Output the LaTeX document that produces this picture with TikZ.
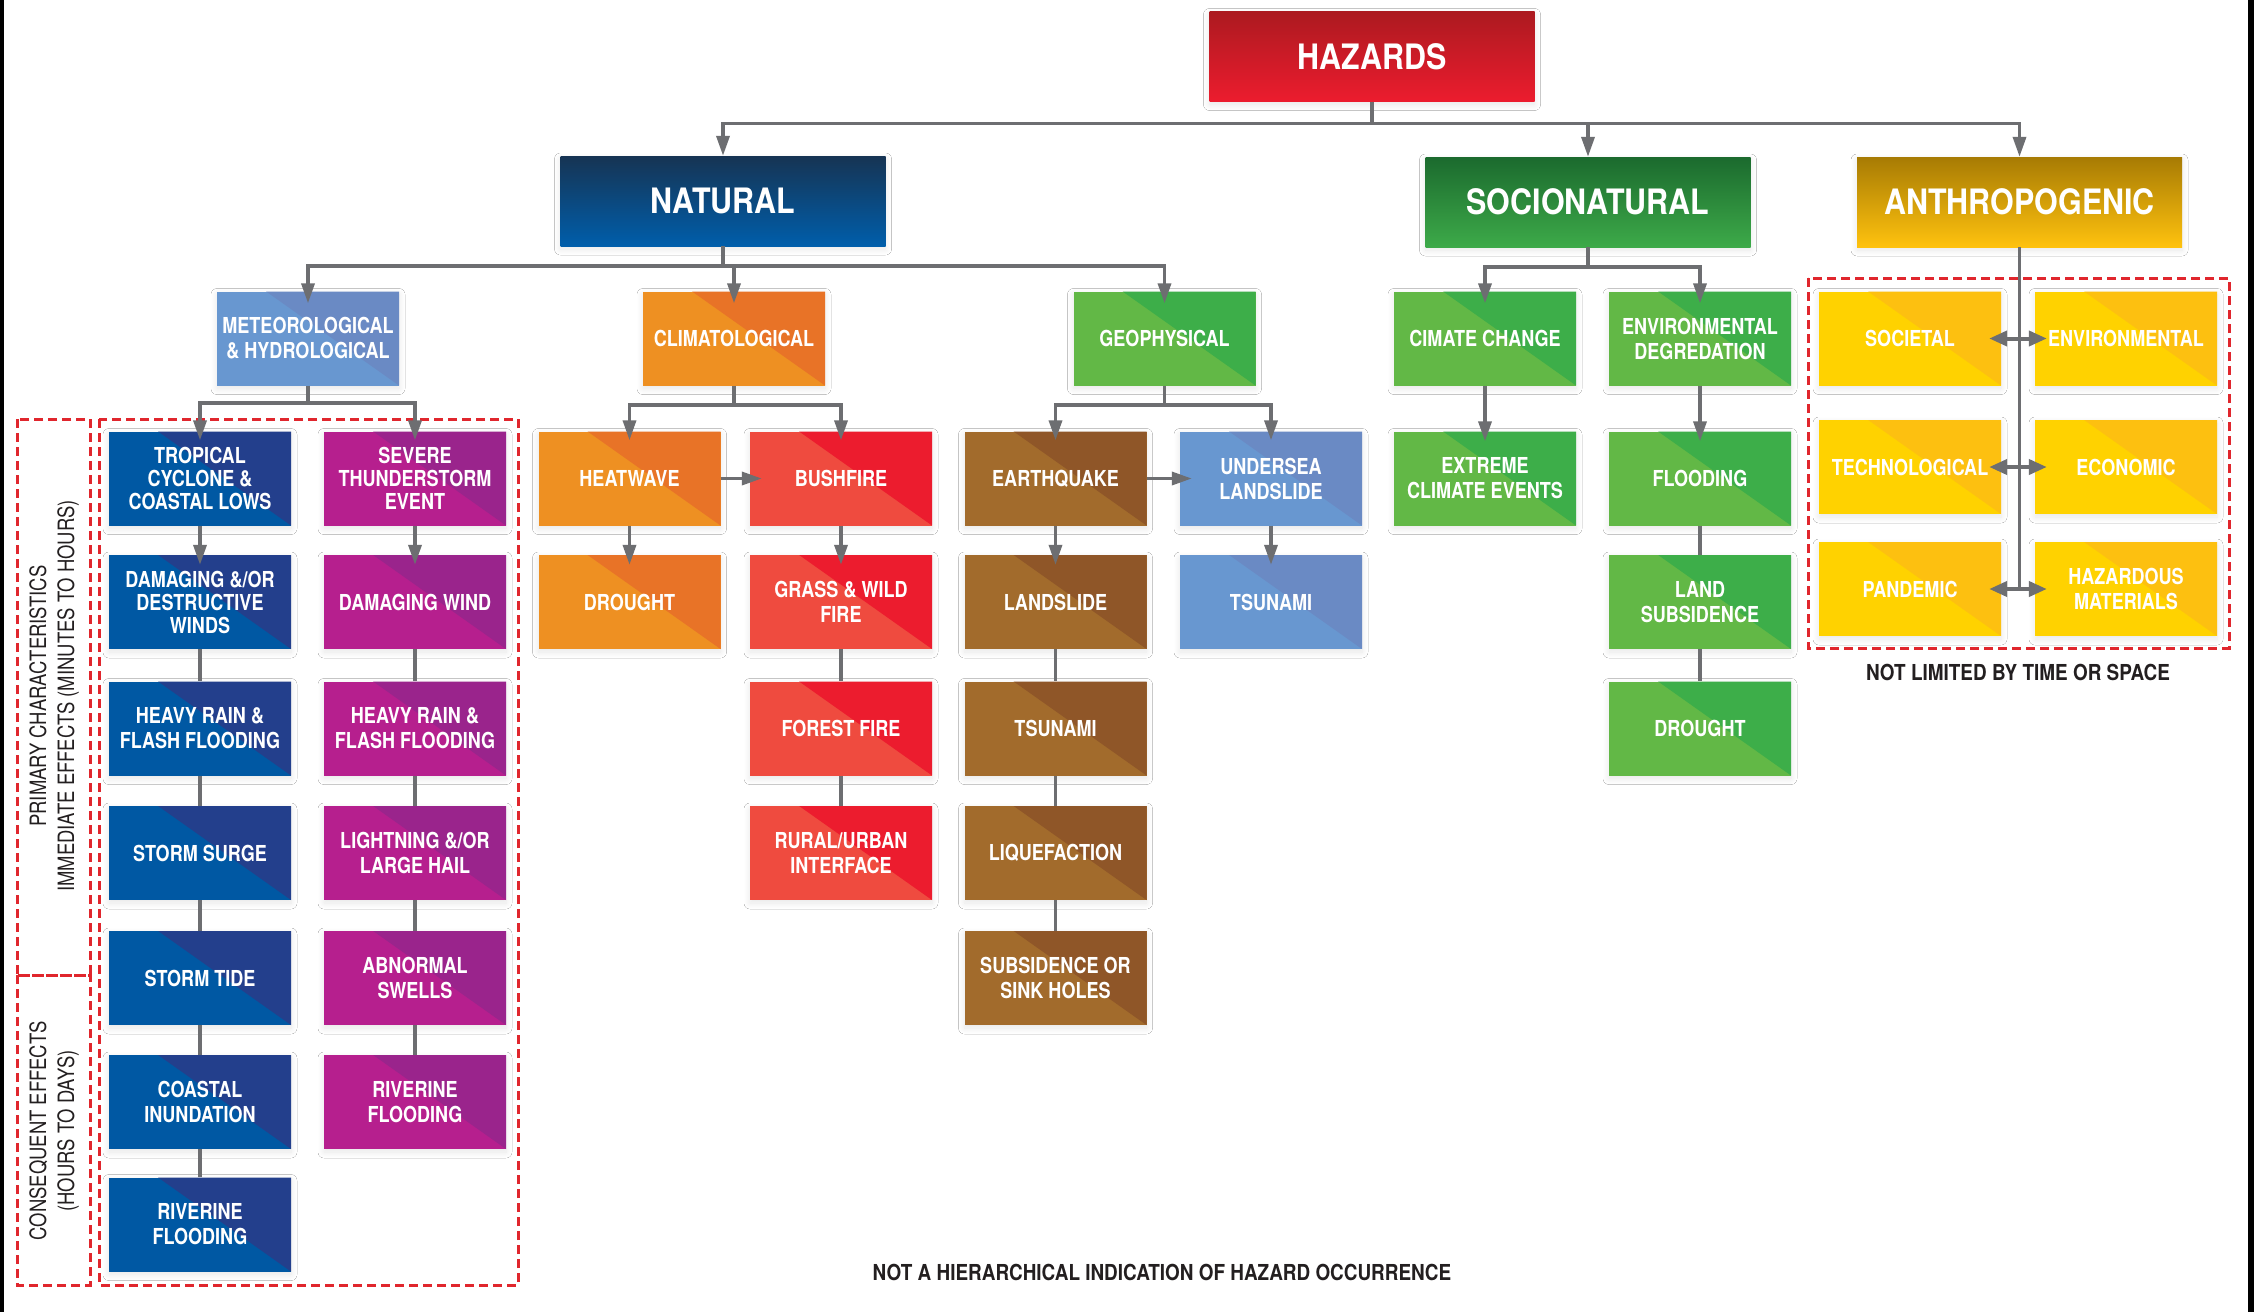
\documentclass[tikz,border=0pt]{standalone}
\usepackage{fontspec}
\setmainfont{TeX Gyre Heros}[FakeStretch=0.82]
\newfontfamily\bigfont{TeX Gyre Heros}[FakeStretch=0.87]
\newfontfamily\notefont{TeX Gyre Heros}[FakeStretch=0.86]
\newfontfamily\labfont{TeX Gyre Heros}[FakeStretch=0.82]
\usetikzlibrary{arrows.meta,calc,shadows.blur}

\definecolor{conn}{HTML}{6D6E71}
\definecolor{dashred}{HTML}{E0262D}
\definecolor{metL}{HTML}{6897D0}\definecolor{metR}{HTML}{6A8AC4}
\definecolor{orL}{HTML}{EE9022}\definecolor{orR}{HTML}{E87327}
\definecolor{grL}{HTML}{62B846}\definecolor{grR}{HTML}{3DAE49}
\definecolor{blL}{HTML}{0058A3}\definecolor{blR}{HTML}{233F8C}
\definecolor{mgL}{HTML}{B61F8E}\definecolor{mgR}{HTML}{9A248C}
\definecolor{rdL}{HTML}{EF4B3F}\definecolor{rdR}{HTML}{EC1C2E}
\definecolor{brL}{HTML}{A26B2C}\definecolor{brR}{HTML}{8F5628}
\definecolor{ylL}{HTML}{FFD200}\definecolor{ylR}{HTML}{FDC010}
\definecolor{hazT}{HTML}{AC1A20}\definecolor{hazB}{HTML}{EC1C2E}
\definecolor{natT}{HTML}{163453}\definecolor{natB}{HTML}{005EAB}
\definecolor{socT}{HTML}{1B6A2E}\definecolor{socB}{HTML}{3DAA49}
\definecolor{antT}{HTML}{A77B04}\definecolor{antB}{HTML}{FFC20E}
\definecolor{notecol}{HTML}{231F20}

\tikzset{
  shad/.style={blur shadow={shadow xshift=0pt, shadow yshift=-3pt, shadow blur radius=6pt, shadow opacity=10, shadow blur steps=12}},
  bigbox/.style 2 args={shad, top color=#1, bottom color=#2, draw=none,
    minimum width=325pt, minimum height=90pt, inner sep=0pt, text=white,
    font=\bigfont\bfseries\fontsize{35}{38}\selectfont},
  tbox/.style 2 args={shad, fill=#1,
    path picture={\fill[#2] ($(path picture bounding box.north west)!0.27!(path picture bounding box.north east)$)
      -- (path picture bounding box.north east) -- (path picture bounding box.south east) -- cycle;},
    minimum width=182pt, minimum height=94pt, inner sep=0pt, align=center, text=white,
    font=\bfseries\fontsize{22}{25}\selectfont},
  ln/.style={draw=conn, line width=3.5pt},
  ar/.style={ln, -{Triangle[length=20pt,width=13pt]}},
  dar/.style={draw=conn, line width=4pt, {Triangle[length=18pt,width=15pt]}-{Triangle[length=18pt,width=15pt]}},
  dbox/.style={draw=dashred, line width=3pt, dash pattern=on 9pt off 5pt},
  note/.style={text=notecol, inner sep=0pt, font=\notefont\bfseries\fontsize{22}{25}\selectfont},
  lab/.style={text=notecol, inner sep=0pt, align=center, font=\labfont\fontsize{22.5}{28}\selectfont},
}

\begin{document}
\begin{tikzpicture}[x=1pt, y=-1pt]
\useasboundingbox (0,0) rectangle (2254,1312);
\fill[white] (0,0) rectangle (2254,1312);
\fill[black] (0,0) rectangle (4,1312);
\fill[black] (2248,0) rectangle (2254,1312);

% dashed frames
\draw[dbox] (99,419) rectangle (518,1285);
\draw[dbox] (17,419) rectangle (90,975);
\draw[dbox] (17,975) rectangle (90,1285);
\draw[dbox] (1808,278) rectangle (2229,648);

% top levels
\node[bigbox={hazT}{hazB}] (HAZ) at (1372,56.5) {HAZARDS};
\node[bigbox={natT}{natB}] (NAT) at (723,201) {NATURAL};
\node[bigbox={socT}{socB}] (SOC) at (1588,202) {SOCIONATURAL};
\node[bigbox={antT}{antB}] (ANT) at (2019.5,202) {ANTHROPOGENIC};

% second level
\node[tbox={metL}{metR}] (MET) at (308,338.5) {METEOROLOGICAL\\\& HYDROLOGICAL};
\node[tbox={orL}{orR}] (CLIM) at (734,338.5) {CLIMATOLOGICAL};
\node[tbox={grL}{grR}] (GEO) at (1164.5,338.5) {GEOPHYSICAL};
\node[tbox={grL}{grR}] (CIM) at (1485,338.5) {CIMATE CHANGE};
\node[tbox={grL}{grR}] (ENVD) at (1700,338.5) {ENVIRONMENTAL\\DEGREDATION};

% anthropogenic
\node[tbox={ylL}{ylR}] (SOCI) at (1910,338.5) {SOCIETAL};
\node[tbox={ylL}{ylR}] (ENVA) at (2126,338.5) {ENVIRONMENTAL};
\node[tbox={ylL}{ylR}] (TECH) at (1910,467) {TECHNOLOGICAL};
\node[tbox={ylL}{ylR}] (ECON) at (2126,467) {ECONOMIC};
\node[tbox={ylL}{ylR}] (PAND) at (1910,589) {PANDEMIC};
\node[tbox={ylL}{ylR}] (HAZM) at (2126,589) {HAZARDOUS\\MATERIALS};

% meteorological columns
\node[tbox={blL}{blR}, font=\bfseries\fontsize{22}{23}\selectfont] (TROP) at (200,478.5) {TROPICAL\\CYCLONE \&\\COASTAL LOWS};
\node[tbox={blL}{blR}, font=\bfseries\fontsize{22}{23}\selectfont] (DAM1) at (200,602) {DAMAGING \&/OR\\DESTRUCTIVE\\WINDS};
\node[tbox={blL}{blR}] (HR1) at (200,728.5) {HEAVY RAIN \&\\FLASH FLOODING};
\node[tbox={blL}{blR}] (SS) at (200,853) {STORM SURGE};
\node[tbox={blL}{blR}] (ST) at (200,978) {STORM TIDE};
\node[tbox={blL}{blR}] (CI) at (200,1102) {COASTAL\\INUNDATION};
\node[tbox={blL}{blR}] (RF1) at (200,1224.5) {RIVERINE\\FLOODING};

\node[tbox={mgL}{mgR}, font=\bfseries\fontsize{22}{23}\selectfont] (SEV) at (415,478.5) {SEVERE\\THUNDERSTORM\\EVENT};
\node[tbox={mgL}{mgR}] (DW) at (415,602) {DAMAGING WIND};
\node[tbox={mgL}{mgR}] (HR2) at (415,728.5) {HEAVY RAIN \&\\FLASH FLOODING};
\node[tbox={mgL}{mgR}] (LH) at (415,853) {LIGHTNING \&/OR\\LARGE HAIL};
\node[tbox={mgL}{mgR}] (AS) at (415,978) {ABNORMAL\\SWELLS};
\node[tbox={mgL}{mgR}] (RF2) at (415,1102) {RIVERINE\\FLOODING};

% climatological
\node[tbox={orL}{orR}] (HEAT) at (629.5,478.5) {HEATWAVE};
\node[tbox={orL}{orR}] (DRO1) at (629.5,602) {DROUGHT};
\node[tbox={rdL}{rdR}] (BUSH) at (841,478.5) {BUSHFIRE};
\node[tbox={rdL}{rdR}] (GRASS) at (841,602) {GRASS \& WILD\\FIRE};
\node[tbox={rdL}{rdR}] (FOR) at (841,728.5) {FOREST FIRE};
\node[tbox={rdL}{rdR}] (RUR) at (841,853) {RURAL/URBAN\\INTERFACE};

% geophysical
\node[tbox={brL}{brR}] (EQ) at (1055.5,478.5) {EARTHQUAKE};
\node[tbox={brL}{brR}] (LAND) at (1055.5,602) {LANDSLIDE};
\node[tbox={brL}{brR}] (TSU1) at (1055.5,728.5) {TSUNAMI};
\node[tbox={brL}{brR}] (LIQ) at (1055.5,853) {LIQUEFACTION};
\node[tbox={brL}{brR}] (SUB) at (1055.5,978) {SUBSIDENCE OR\\SINK HOLES};
\node[tbox={metL}{metR}] (UND) at (1271,478.5) {UNDERSEA\\LANDSLIDE};
\node[tbox={metL}{metR}] (TSU2) at (1271,602) {TSUNAMI};

% socionatural
\node[tbox={grL}{grR}] (EXT) at (1485,478.5) {EXTREME\\CLIMATE EVENTS};
\node[tbox={grL}{grR}] (FLO) at (1700,478.5) {FLOODING};
\node[tbox={grL}{grR}] (LSUB) at (1700,602) {LAND\\SUBSIDENCE};
\node[tbox={grL}{grR}] (DRO2) at (1700,728.5) {DROUGHT};

% notes
\node[note] (N1) at (1162,1272) {NOT A HIERARCHICAL INDICATION OF HAZARD OCCURRENCE};
\node[note] (N2) at (2018,672) {NOT LIMITED BY TIME OR SPACE};
\node[lab, rotate=90] (L1) at (54,696) {PRIMARY CHARACTERISTICS\\IMMEDIATE EFFECTS (MINUTES TO HOURS)};
\node[lab, rotate=90] (L2) at (54,1131) {CONSEQUENT EFFECTS\\(HOURS TO DAYS)};

% ---- connectors ----
\path (HAZ.south) ++(0,22) coordinate (hb);
\draw[ln] (HAZ.south) -- (hb);
\draw[ar] (hb) -| (NAT.north);
\draw[ar] (hb) -| (SOC.north);
\draw[ar] (hb) -| (ANT.north);

\path (NAT.south) ++(0,20) coordinate (nb);
\draw[ln] (NAT.south) -- (nb);
\draw[ar, shorten >=-12pt] (nb) -| (MET.north);
\draw[ar, shorten >=-12pt] (nb) -| (CLIM.north);
\draw[ar, shorten >=-12pt] (nb) -| (GEO.north);

\path (SOC.south) ++(0,20) coordinate (sb);
\draw[ln] (SOC.south) -- (sb);
\draw[ar, shorten >=-12pt] (sb) -| (CIM.north);
\draw[ar, shorten >=-12pt] (sb) -| (ENVD.north);

\path (MET.south) ++(0,17.5) coordinate (mb);
\draw[ln] (MET.south) -- (mb);
\draw[ar, shorten >=-9pt] (mb) -| (TROP.north);
\draw[ar, shorten >=-9pt] (mb) -| (SEV.north);

\path (CLIM.south) ++(0,19.5) coordinate (cb);
\draw[ln] (CLIM.south) -- (cb);
\draw[ar, shorten >=-9pt] (cb) -| (HEAT.north);
\draw[ar, shorten >=-9pt] (cb) -| (BUSH.north);

\path (GEO.south) ++(0,19.5) coordinate (gb);
\draw[ln] (GEO.south) -- (gb);
\draw[ar, shorten >=-9pt] (gb) -| (EQ.north);
\draw[ar, shorten >=-9pt] (gb) -| (UND.north);

\coordinate (ae) at (ANT.south |- PAND.center);
\draw[ln] (ANT.south) -- (ae);
\draw[dar, shorten <=-12pt, shorten >=-12pt] (SOCI.east) -- (ENVA.west);
\draw[dar, shorten <=-12pt, shorten >=-12pt] (TECH.east) -- (ECON.west);
\draw[dar, shorten <=-12pt, shorten >=-12pt] (PAND.east) -- (HAZM.west);

\draw[ar, shorten >=-10pt] (TROP) -- (DAM1);
\draw[ar, shorten >=-10pt] (SEV) -- (DW);
\draw[ar, shorten >=-10pt] (HEAT) -- (DRO1);
\draw[ar, shorten >=-10pt] (BUSH) -- (GRASS);
\draw[ar, shorten >=-10pt] (EQ) -- (LAND);
\draw[ar, shorten >=-10pt] (UND) -- (TSU2);
\draw[ar, shorten >=-10pt] (CIM) -- (EXT);
\draw[ar, shorten >=-10pt] (ENVD) -- (FLO);
\draw[ar, shorten >=-12pt] (HEAT) -- (BUSH);
\draw[ar, shorten >=-12pt] (EQ) -- (UND);

\draw[ln] (DAM1) -- (HR1);
\draw[ln] (HR1) -- (SS);
\draw[ln] (SS) -- (ST);
\draw[ln] (ST) -- (CI);
\draw[ln] (CI) -- (RF1);
\draw[ln] (DW) -- (HR2);
\draw[ln] (HR2) -- (LH);
\draw[ln] (LH) -- (AS);
\draw[ln] (AS) -- (RF2);
\draw[ln] (GRASS) -- (FOR);
\draw[ln] (FOR) -- (RUR);
\draw[ln] (LAND) -- (TSU1);
\draw[ln] (TSU1) -- (LIQ);
\draw[ln] (LIQ) -- (SUB);
\draw[ln] (FLO) -- (LSUB);
\draw[ln] (LSUB) -- (DRO2);
\end{tikzpicture}
\end{document}
